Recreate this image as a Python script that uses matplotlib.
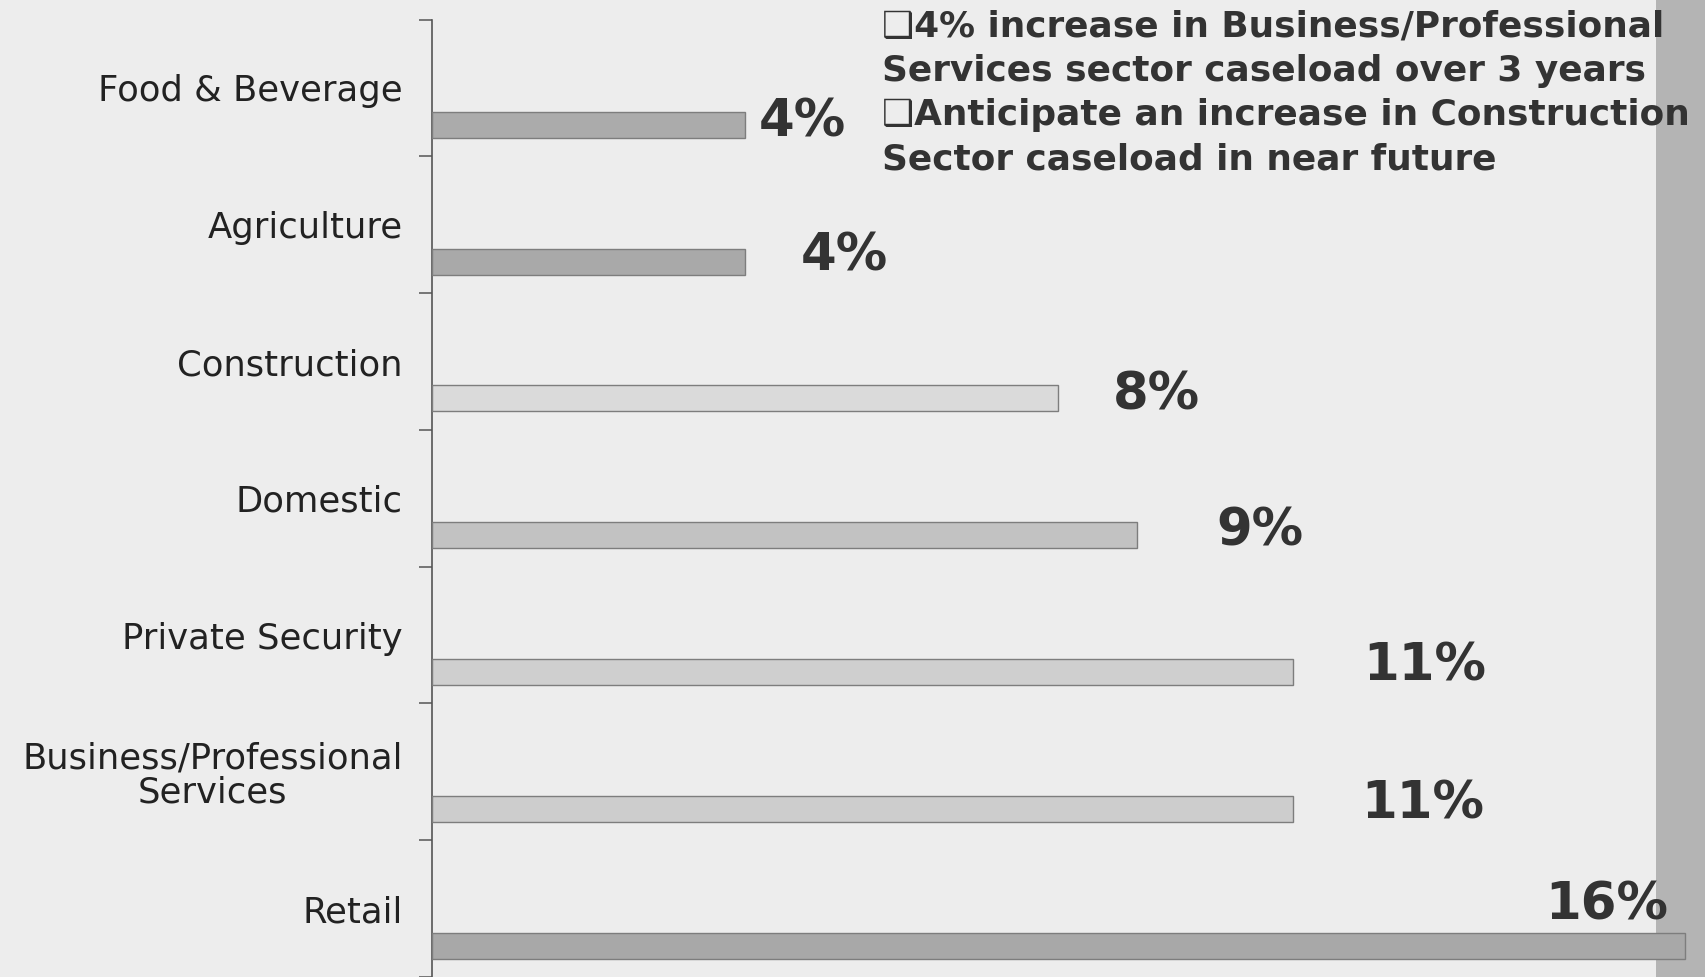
import matplotlib
matplotlib.use("Agg")
import matplotlib.pyplot as plt
from matplotlib.patches import Rectangle

# ---- data ----
categories = ["Food & Beverage", "Agriculture", "Construction", "Domestic",
              "Private Security", "Business/Professional\nServices", "Retail"]
values = [4, 4, 8, 9, 11, 11, 16]
value_labels = ["4%", "4%", "8%", "9%", "11%", "11%", "16%"]
notes = ["\u2751" + "4% increase in Business/Professional",
         "Services sector caseload over 3 years",
         "\u2751" + "Anticipate an increase in Construction",
         "Sector caseload in near future"]

# ---- style ----
bar_colors = ["#ababab", "#a9a9a9", "#dadada", "#c2c2c2", "#cfcfcf", "#cdcdcd", "#a8a8a8"]
label_offsets_px = [(14, -2), (56, -5), (54, -3), (80, -4), (70, -5), (68, -4), (-17, -40)]
label_ha = ["left"] * 6 + ["right"]

W, H, DPI = 1706, 977, 100
fig = plt.figure(figsize=(W / DPI, H / DPI), dpi=DPI)
fig.patch.set_facecolor("#ededed")
strip = Rectangle((1656 / W, 0), 50 / W, 1, transform=fig.transFigure,
                  facecolor="#b4b4b4", edgecolor="none", zorder=-5)
fig.patches.append(strip)

ax = fig.add_axes([432 / W, 0, 1 - 432 / W, 1 - 19.6 / H])
ax.set_zorder(2)
ax.set_facecolor("none")
n = len(categories)
pos = list(range(n))
bar_pos = [p + 0.27 for p in pos]
ax.barh(bar_pos, values, height=0.19, color=bar_colors, edgecolor="#7d7d7d",
        linewidth=1.0, zorder=3)

ax.set_xlim(0, 1274 / 78.3)
ax.set_ylim(n - 0.5, -0.5)

for s in ["top", "right", "bottom"]:
    ax.spines[s].set_visible(False)
ax.spines["left"].set_color("#555555")
ax.spines["left"].set_linewidth(1.2)
ax.set_xticks([])

ax.set_yticks(pos)
ax.set_yticklabels(categories, fontsize=25.5, color="#222222",
                   family=["DejaVu Sans"])
for lbl in ax.get_yticklabels():
    lbl.set_multialignment("center")
    lbl.set_linespacing(1.0)
ax.tick_params(axis="y", which="major", length=0, pad=21)
ax.set_yticks([p - 0.5 for p in pos] + [n - 0.5], minor=True)
ax.tick_params(axis="y", which="minor", length=9.4, width=1.1, color="#555555")

for v, bp, txt, (dx, dy), ha in zip(values, bar_pos, value_labels, label_offsets_px, label_ha):
    ax.annotate(txt, xy=(v, bp), xytext=(dx * 72 / DPI, -dy * 72 / DPI),
                textcoords="offset points", ha=ha, va="center",
                fontsize=37, fontweight="bold", color="#333333",
                family=["DejaVu Sans"], zorder=4)

note_y_px = [27, 71, 115, 159]
for t, yp in zip(notes, note_y_px):
    fig.text(882 / W, 1 - yp / H, t, ha="left", va="center", fontsize=25.8,
             fontweight="bold", color="#333333", family=["DejaVu Sans"])

fig.savefig("out.png", dpi=DPI, facecolor=fig.get_facecolor())
